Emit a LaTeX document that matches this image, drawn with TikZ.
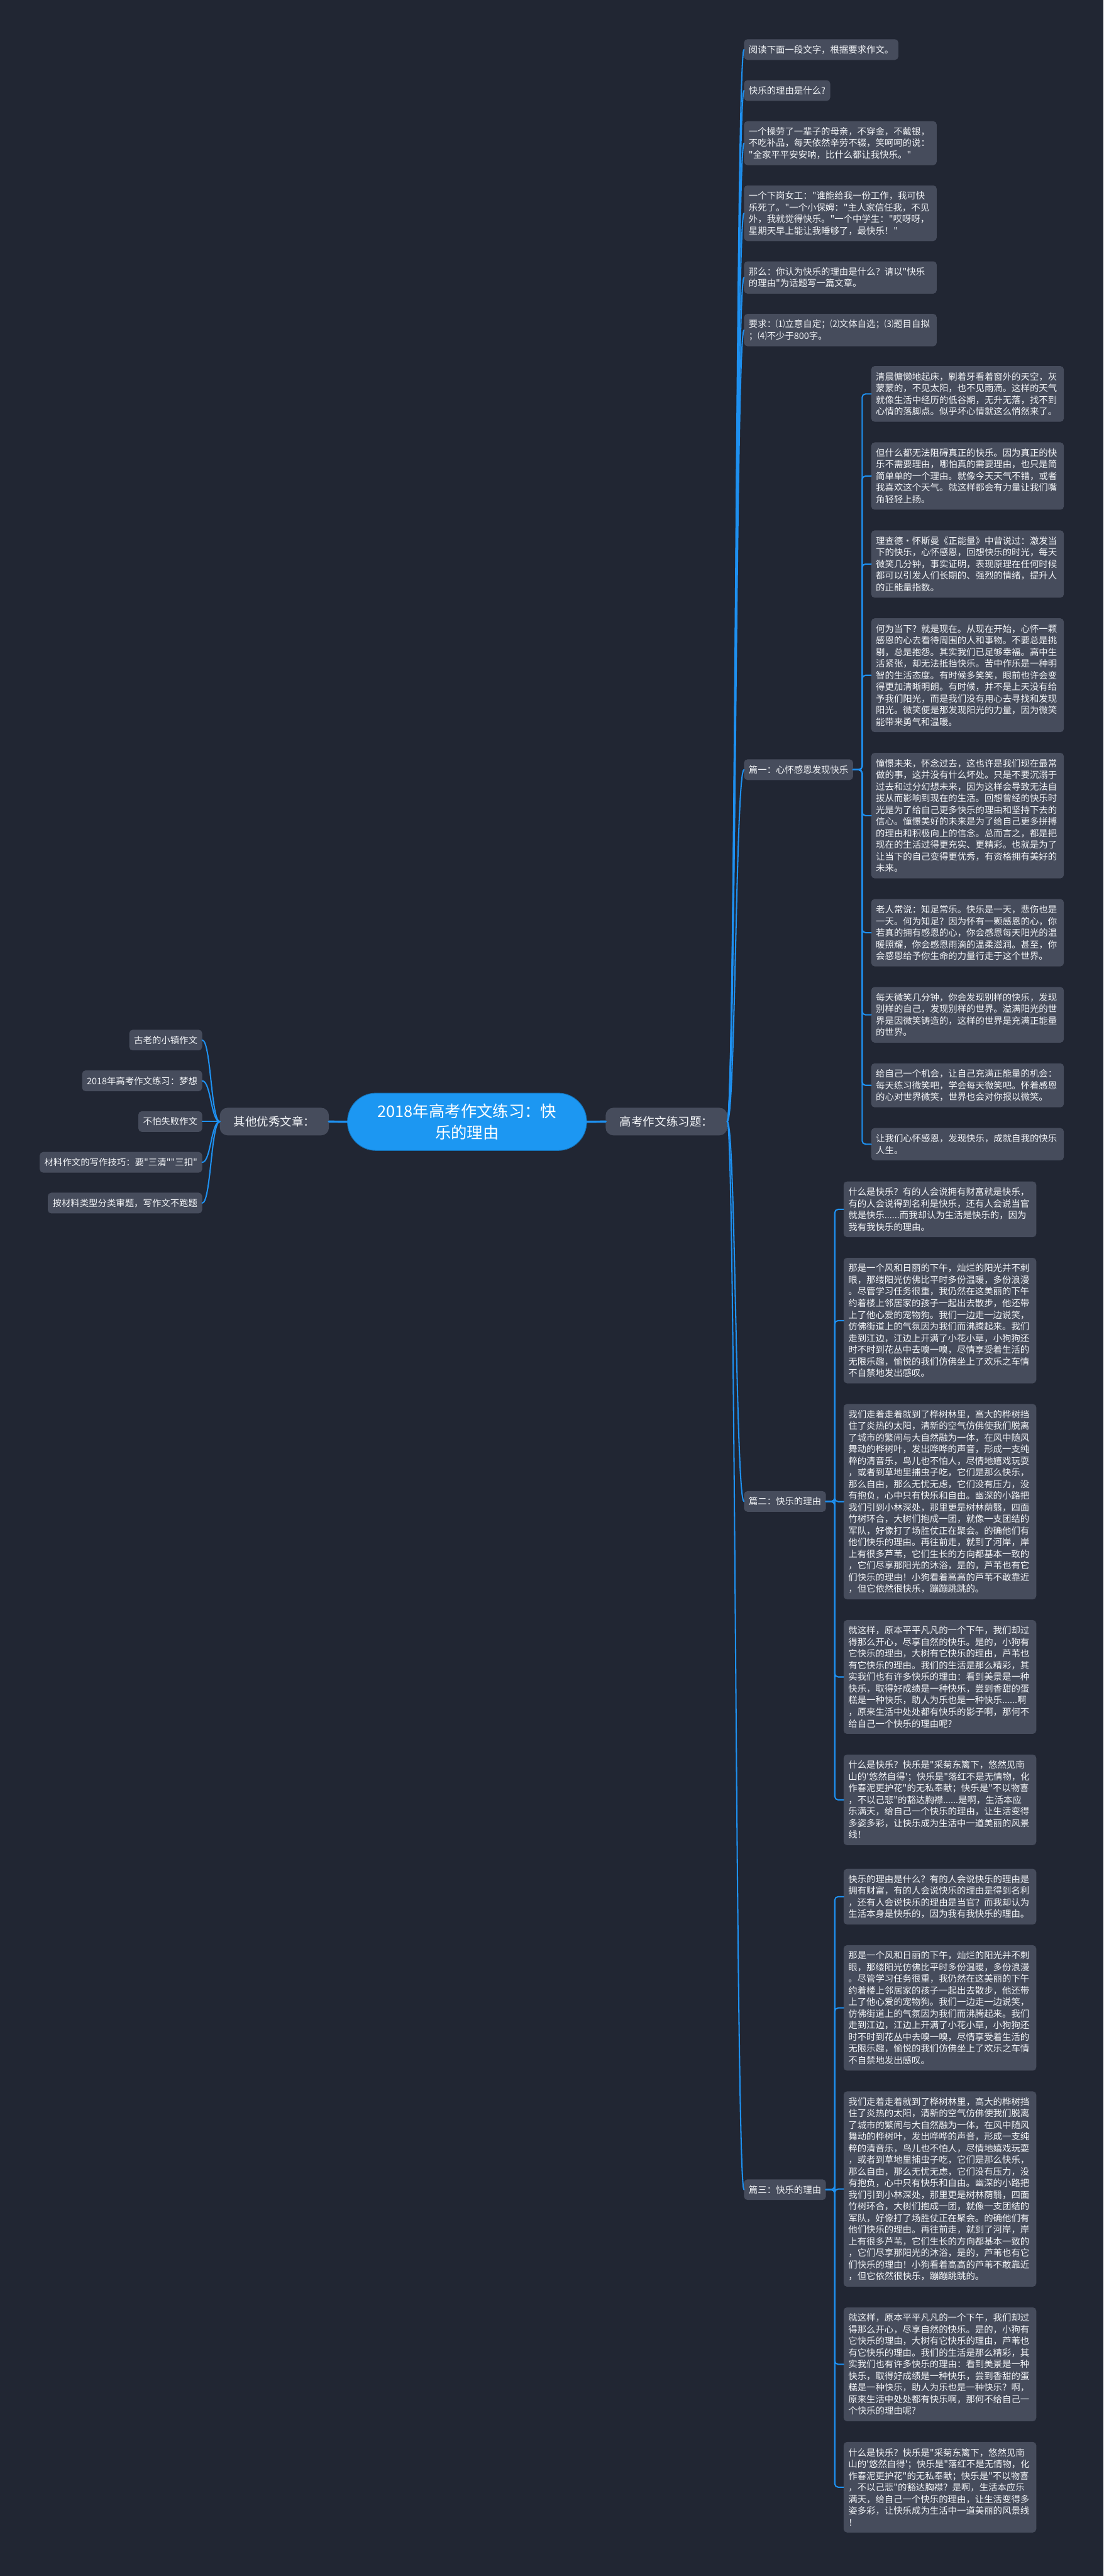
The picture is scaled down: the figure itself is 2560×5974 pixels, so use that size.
\documentclass[tikz,border=0pt]{standalone}
\usepackage{fontspec}
\newfontfamily\cjk{Noto Sans CJK SC}
\usepackage{xcolor}
\usepackage{tikz}
\usetikzlibrary{positioning,calc}
\definecolor{bgnavy}{HTML}{212633}
\definecolor{cardgray}{HTML}{464C5C}
\definecolor{linkblue}{HTML}{1E90F0}
\definecolor{rootblue}{HTML}{1C97F2}
\definecolor{paper}{HTML}{F2F4F7}
\tikzset{
    every picture/.style={line cap=round,line join=round},
    card/.style={fill=cardgray,text=paper,rounded corners=8pt,
      inner xsep=11pt,inner ysep=0pt,outer sep=0pt,minimum height=48pt,
      font=\cjk\fontsize{21}{27}\selectfont,align=left},
    tagcard/.style={card},
    para/.style={card,text width=425pt,minimum height={21pt+27pt*#1}},
    stack/.style={below=#1,anchor=north west},
    branchnode/.style={fill=cardgray,text=paper,rounded corners=18pt,
      minimum height=64pt,inner sep=0pt,outer sep=0pt,
      font=\cjk\fontsize{27}{34}\selectfont},
    rootnode/.style={fill=rootblue,draw=rootblue!75!black,line width=1.5pt,
      text=white,rounded corners=66pt,minimum width=555pt,minimum height=133pt,
      inner sep=0pt,outer sep=0pt,align=center,
      font=\cjk\fontsize{37}{50}\selectfont},
    link/.style={draw=linkblue,line width=3pt},
    sublink/.style={draw=linkblue,line width=3pt,rounded corners=8pt},
    rootlink/.style={draw=linkblue,line width=5pt}
}
\newcommand{\walktext}{那是一个风和日丽的下午，灿烂的阳光并不刺\\眼，那缕阳光仿佛比平时多份温暖，多份浪漫\\。尽管学习任务很重，我仍然在这美丽的下午\\约着楼上邻居家的孩子一起出去散步，他还带\\上了他心爱的宠物狗。我们一边走一边说笑，\\仿佛街道上的气氛因为我们而沸腾起来。我们\\走到江边，江边上开满了小花小草，小狗狗还\\时不时到花丛中去嗅一嗅，尽情享受着生活的\\无限乐趣，愉悦的我们仿佛坐上了欢乐之车情\\不自禁地发出感叹。}
\newcommand{\grovetext}{我们走着走着就到了桦树林里，高大的桦树挡\\住了炎热的太阳，清新的空气仿佛使我们脱离\\了城市的繁闹与大自然融为一体，在风中随风\\舞动的桦树叶，发出哗哗的声音，形成一支纯\\粹的清音乐，鸟儿也不怕人，尽情地嬉戏玩耍\\，或者到草地里捕虫子吃，它们是那么快乐，\\那么自由，那么无忧无虑，它们没有压力，没\\有抱负，心中只有快乐和自由。幽深的小路把\\我们引到小林深处，那里更是树林荫翳，四面\\竹树环合，大树们抱成一团，就像一支团结的\\军队，好像打了场胜仗正在聚会。的确他们有\\他们快乐的理由。再往前走，就到了河岸，岸\\上有很多芦苇，它们生长的方向都基本一致的\\，它们尽享那阳光的沐浴，是的，芦苇也有它\\们快乐的理由！小狗看着高高的芦苇不敢靠近\\，但它依然很快乐，蹦蹦跳跳的。}

\begin{document}
\begin{tikzpicture}[x=1pt,y=-1pt]
  \path[fill=bgnavy,use as bounding box] (0,0) rectangle (2560,5974);

  % centre and the two main branches
  \node[rootnode] (root) at (1083.5,2601.5) {2018年高考作文练习：快\\乐的理由};
  \node[branchnode,minimum width=282pt] (topic) at (1546,2601) {高考作文练习题：};
  \node[branchnode,minimum width=253pt] (other) at (636.5,2601) {其他优秀文章：};
  \draw[rootlink] (root.east) -- (topic.west);
  \draw[rootlink] (root.west) -- (other.east);

  % other essays
  \foreach \t [count=\i] in {古老的小镇作文,2018年高考作文练习：梦想,不怕失败作文,材料作文的写作技巧：要"三清""三扣",按材料类型分类审题，写作文不跑题}
    \node[tagcard,anchor=east] (o\i) at (469,{2601+(\i-3)*94.5}) {\t};
  \foreach \i in {1,...,5}
    \draw[link] (other.west) .. controls +(-20.5,0) and +(20.5,0) .. (o\i.east);

  % the task
  \node[tagcard,anchor=north west] (q1) at (1726,91) {阅读下面一段文字，根据要求作文。};
  \node[tagcard,stack={47pt of q1.south west}] (q2) {快乐的理由是什么?};
  \node[para=3,stack={47pt of q2.south west}] (q3) {一个操劳了一辈子的母亲，不穿金，不戴银，\\不吃补品，每天依然辛劳不辍，笑呵呵的说：\\"全家平平安安呐，比什么都让我快乐。"};
  \node[para=4,stack={47pt of q3.south west}] (q4) {一个下岗女工："谁能给我一份工作，我可快\\乐死了。"一个小保姆："主人家信任我，不见\\外，我就觉得快乐。"一个中学生："哎呀呀，\\星期天早上能让我睡够了，最快乐！"};
  \node[para=2,stack={47pt of q4.south west}] (q5) {那么：你认为快乐的理由是什么？请以"快乐\\的理由"为话题写一篇文章。};
  \node[para=2,stack={47pt of q5.south west}] (q6) {要求：⑴立意自定；⑵文体自选；⑶题目自拟\\；⑷不少于800字。};

  \node[tagcard,anchor=west] (l1) at (1726,1785) {篇一：心怀感恩发现快乐};
  \node[tagcard,anchor=west] (l2) at (1726,3482) {篇二：快乐的理由};
  \node[tagcard,anchor=west] (l3) at (1726,5078) {篇三：快乐的理由};

  \foreach \c in {q1,q2,q3,q4,q5,q6,l1,l2,l3}
    \draw[link] (topic.east) .. controls +(19.5,0) and +(-19.5,0) .. (\c.west);

  % essay one
  \node[para=4,anchor=north west] (a1) at (2021,849) {清晨慵懒地起床，刷着牙看着窗外的天空，灰\\蒙蒙的，不见太阳，也不见雨滴。这样的天气\\就像生活中经历的低谷期，无升无落，找不到\\心情的落脚点。似乎坏心情就这么悄然来了。};
  \node[para=5,stack={48pt of a1.south west}] (a2) {但什么都无法阻碍真正的快乐。因为真正的快\\乐不需要理由，哪怕真的需要理由，也只是简\\简单单的一个理由。就像今天天气不错，或者\\我喜欢这个天气。就这样都会有力量让我们嘴\\角轻轻上扬。};
  \node[para=5,stack={48pt of a2.south west}] (a3) {理查德·怀斯曼《正能量》中曾说过：激发当\\下的快乐，心怀感恩，回想快乐的时光，每天\\微笑几分钟，事实证明，表现原理在任何时候\\都可以引发人们长期的、强烈的情绪，提升人\\的正能量指数。};
  \node[para=9,stack={48pt of a3.south west}] (a4) {何为当下？就是现在。从现在开始，心怀一颗\\感恩的心去看待周围的人和事物。不要总是挑\\剔，总是抱怨。其实我们已足够幸福。高中生\\活紧张，却无法抵挡快乐。苦中作乐是一种明\\智的生活态度。有时候多笑笑，眼前也许会变\\得更加清晰明朗。有时候，并不是上天没有给\\予我们阳光，而是我们没有用心去寻找和发现\\阳光。微笑便是那发现阳光的力量，因为微笑\\能带来勇气和温暖。};
  \node[para=10,stack={48pt of a4.south west}] (a5) {憧憬未来，怀念过去，这也许是我们现在最常\\做的事，这并没有什么坏处。只是不要沉溺于\\过去和过分幻想未来，因为这样会导致无法自\\拔从而影响到现在的生活。回想曾经的快乐时\\光是为了给自己更多快乐的理由和坚持下去的\\信心。憧憬美好的未来是为了给自己更多拼搏\\的理由和积极向上的信念。总而言之，都是把\\现在的生活过得更充实、更精彩。也就是为了\\让当下的自己变得更优秀，有资格拥有美好的\\未来。};
  \node[para=5,stack={48pt of a5.south west}] (a6) {老人常说：知足常乐。快乐是一天，悲伤也是\\一天。何为知足？因为怀有一颗感恩的心，你\\若真的拥有感恩的心，你会感恩每天阳光的温\\暖照耀，你会感恩雨滴的温柔滋润。甚至，你\\会感恩给予你生命的力量行走于这个世界。};
  \node[para=4,stack={48pt of a6.south west}] (a7) {每天微笑几分钟，你会发现别样的快乐，发现\\别样的自己，发现别样的世界。溢满阳光的世\\界是因微笑铸造的，这样的世界是充满正能量\\的世界。};
  \node[para=3,stack={48pt of a7.south west}] (a8) {给自己一个机会，让自己充满正能量的机会：\\每天练习微笑吧，学会每天微笑吧。怀着感恩\\的心对世界微笑，世界也会对你报以微笑。};
  \node[para=2,stack={48pt of a8.south west}] (a9) {让我们心怀感恩，发现快乐，成就自我的快乐\\人生。};

  % essay two
  \node[para=4,anchor=north west] (b1) at (1957,2740) {什么是快乐？有的人会说拥有财富就是快乐，\\有的人会说得到名利是快乐，还有人会说当官\\就是快乐......而我却认为生活是快乐的，因为\\我有我快乐的理由。};
  \node[para=10,stack={48pt of b1.south west}] (b2) {\walktext};
  \node[para=16,stack={48pt of b2.south west}] (b3) {\grovetext};
  \node[para=9,stack={48pt of b3.south west}] (b4) {就这样，原本平平凡凡的一个下午，我们却过\\得那么开心，尽享自然的快乐。是的，小狗有\\它快乐的理由，大树有它快乐的理由，芦苇也\\有它快乐的理由。我们的生活是那么精彩，其\\实我们也有许多快乐的理由：看到美景是一种\\快乐，取得好成绩是一种快乐，尝到香甜的蛋\\糕是一种快乐，助人为乐也是一种快乐......啊\\，原来生活中处处都有快乐的影子啊，那何不\\给自己一个快乐的理由呢?};
  \node[para=7,stack={48pt of b4.south west}] (b5) {什么是快乐？快乐是"采菊东篱下，悠然见南\\山的'悠然自得'；快乐是"落红不是无情物，化\\作春泥更护花"的无私奉献；快乐是"不以物喜\\，不以己悲"的豁达胸襟......是啊，生活本应\\乐满天，给自己一个快乐的理由，让生活变得\\多姿多彩，让快乐成为生活中一道美丽的风景\\线！};

  % essay three
  \node[para=4,anchor=north west] (c1) at (1957,4334) {快乐的理由是什么？有的人会说快乐的理由是\\拥有财富，有的人会说快乐的理由是得到名利\\，还有人会说快乐的理由是当官？而我却认为\\生活本身是快乐的，因为我有我快乐的理由。};
  \node[para=10,stack={48pt of c1.south west}] (c2) {\walktext};
  \node[para=16,stack={48pt of c2.south west}] (c3) {\grovetext};
  \node[para=9,stack={48pt of c3.south west}] (c4) {就这样，原本平平凡凡的一个下午，我们却过\\得那么开心，尽享自然的快乐。是的，小狗有\\它快乐的理由，大树有它快乐的理由，芦苇也\\有它快乐的理由。我们的生活是那么精彩，其\\实我们也有许多快乐的理由：看到美景是一种\\快乐，取得好成绩是一种快乐，尝到香甜的蛋\\糕是一种快乐，助人为乐也是一种快乐？啊，\\原来生活中处处都有快乐啊，那何不给自己一\\个快乐的理由呢?};
  \node[para=7,stack={48pt of c4.south west}] (c5) {什么是快乐？快乐是"采菊东篱下，悠然见南\\山的'悠然自得'；快乐是"落红不是无情物，化\\作春泥更护花"的无私奉献；快乐是"不以物喜\\，不以己悲"的豁达胸襟？是啊，生活本应乐\\满天，给自己一个快乐的理由，让生活变得多\\姿多彩，让快乐成为生活中一道美丽的风景线\\！};

  \coordinate (j1) at ($(l1.east)!0.5!(a1.west |- l1.east)$);
  \coordinate (j2) at ($(l2.east)!0.5!(b1.west |- l2.east)$);
  \coordinate (j3) at ($(l3.east)!0.5!(c1.west |- l3.east)$);
  \foreach \i in {1,...,9}
    \draw[sublink] (l1.east) -- (j1) |- (a\i.west);
  \foreach \i in {1,...,5} {
    \draw[sublink] (l2.east) -- (j2) |- (b\i.west);
    \draw[sublink] (l3.east) -- (j3) |- (c\i.west);
  }
\end{tikzpicture}
\end{document}
